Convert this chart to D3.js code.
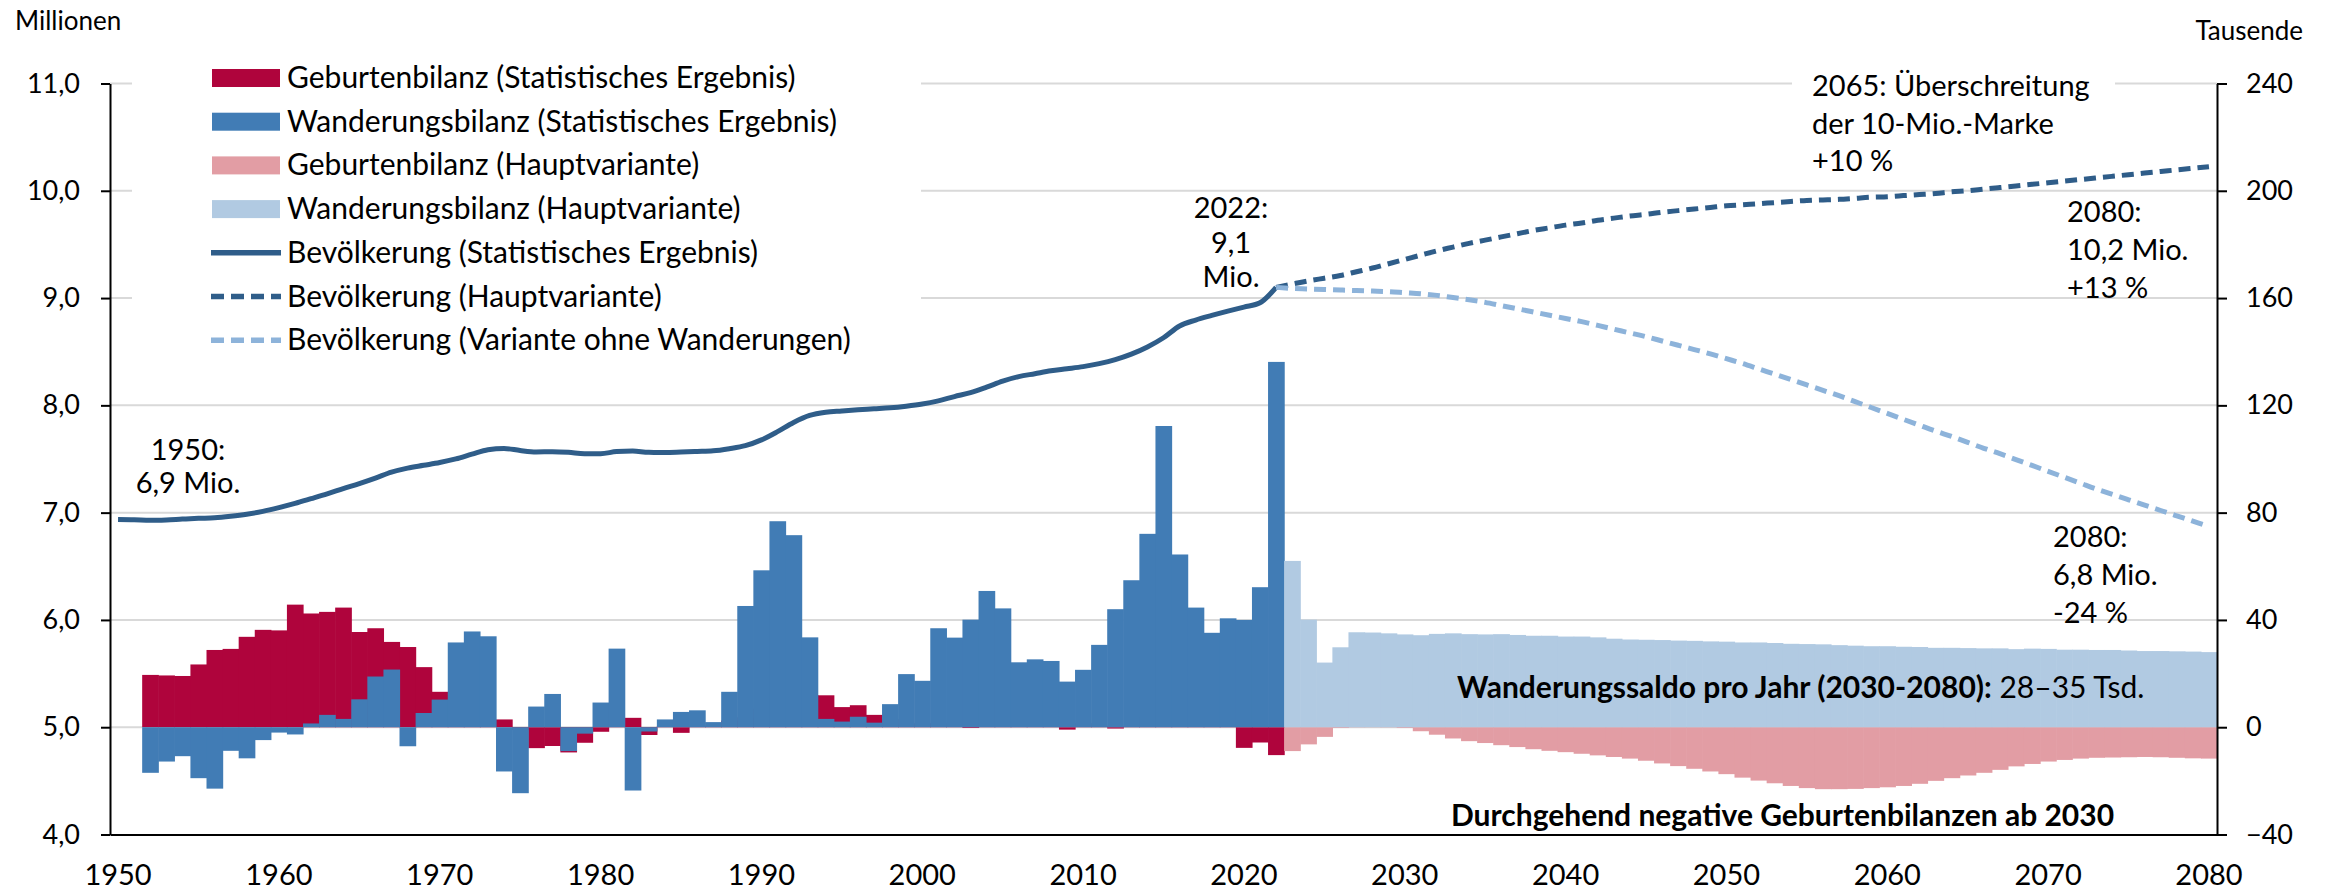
<!DOCTYPE html>
<html>
<head>
<meta charset="utf-8">
<script src="https://cdnjs.cloudflare.com/ajax/libs/d3/7.8.5/d3.min.js"></script>
<style>
  body { margin: 0; background: #fff; }
  svg { display: block; font-family: Lato, 'Open Sans', sans-serif; }
</style>
</head>
<body>
<div id="viz"></div>
<script>
// categories
const firstYear = 1950;
const lastYear = 2080;
const barStartYear = 1952;   // first year with balance bars
const projStartYear = 2023;  // first projected bar
const xTickYears = [1950, 1960, 1970, 1980, 1990, 2000, 2010, 2020, 2030, 2040, 2050, 2060, 2070, 2080];
const leftTicks = [4, 5, 6, 7, 8, 9, 10, 11];
const rightTicks = [-40, 0, 40, 80, 120, 160, 200, 240];

// Geburtenbilanz, statistisches Ergebnis (Tausend), 1952-2022
const geburtenStat = [
  19.5, 19.3, 19.1, 23.4, 28.8, 29.2, 33.7, 36.3, 36.1, 45.7,
  42.4, 43.0, 44.6, 35.5, 36.9, 31.8, 29.9, 22.4, 13.2, 8.0,
  6.0, 1.5, 2.9, -1.0, -7.8, -7.0, -9.4, -5.8, -1.7, 0.8,
  3.5, -2.9, 0.4, -2.1, 0.3, 0.6, 2.5, 3.7, 7.0, 10.0,
  11.5, 12.0, 11.9, 7.5, 8.2, 4.6, 3.0, 1.0, 1.5, 0.5,
  1.6, -0.3, 4.0, 2.5, 3.0, 1.8, 2.0, -0.9, 1.5, 0.5,
  -0.5, 0.5, 3.9, 1.3, 3.8, 4.5, 1.3, 1.6, -7.7, -5.7,
  -10.4
];

// Wanderungsbilanz, statistisches Ergebnis (Tausend), 1952-2022
const wanderungStat = [
  -17.0, -12.8, -10.8, -19.0, -22.9, -8.8, -11.6, -4.8, -2.0, -2.7,
  1.4, 4.6, 3.1, 10.4, 18.9, 21.5, -7.1, 5.3, 10.3, 31.6,
  35.7, 33.9, -16.5, -24.6, 7.7, 12.4, -8.9, -2.4, 9.2, 29.3,
  -23.6, -1.6, 2.9, 5.7, 6.3, 1.9, 13.2, 45.2, 58.5, 76.8,
  71.6, 33.5, 3.1, 2.1, 3.9, 1.7, 8.6, 19.8, 17.3, 36.9,
  33.4, 40.1, 50.8, 44.3, 24.2, 25.3, 24.7, 17.0, 21.4, 30.7,
  44.0, 54.8, 72.1, 112.3, 64.4, 44.6, 35.2, 40.6, 40.0, 52.2,
  136.2
];

// Geburtenbilanz, Hauptvariante (Tausend), 2023-2080
const geburtenHaupt = [
  -8.9, -6.4, -3.6, -0.3, -0.1, 0.1, -0.1, -0.3, -1.5, -2.8,
  -4.2, -5.2, -5.9, -6.7, -7.4, -8.2, -8.8, -9.3, -9.9, -10.5,
  -11.1, -11.7, -12.5, -13.5, -14.5, -15.5, -16.5, -17.5, -18.8, -19.9,
  -20.9, -21.9, -22.7, -23.1, -23.1, -23.0, -22.7, -22.4, -21.9, -21.1,
  -20.0, -19.0, -18.0, -17.0, -15.9, -14.6, -13.7, -12.8, -12.2, -11.7,
  -11.4, -11.3, -11.2, -11.1, -11.2, -11.4, -11.6, -11.7
];

// Wanderungsbilanz, Hauptvariante (Tausend), 2023-2080
const wanderungHaupt = [
  62.0, 40.1, 24.1, 29.8, 35.4, 35.3, 35.0, 34.6, 34.3, 34.8,
  35.0, 34.7, 34.6, 34.7, 34.4, 34.1, 34.1, 33.8, 33.8, 33.5,
  33.0, 32.7, 32.6, 32.5, 32.3, 32.2, 32.0, 31.9, 31.6, 31.6,
  31.4, 31.1, 31.0, 30.9, 30.6, 30.4, 30.2, 30.2, 30.0, 29.9,
  29.6, 29.6, 29.5, 29.4, 29.4, 29.1, 29.3, 29.2, 28.9, 28.9,
  28.8, 28.8, 28.6, 28.4, 28.4, 28.3, 28.2, 28.0
];

// Bevölkerung (Mio.), statistisches Ergebnis, 1950-2022
const popStat = [
  6.935, 6.933, 6.928, 6.932, 6.940, 6.947, 6.952, 6.966, 6.985, 7.012,
  7.047, 7.086, 7.130, 7.175, 7.224, 7.271, 7.322, 7.377, 7.415, 7.441,
  7.467, 7.501, 7.545, 7.587, 7.599, 7.579, 7.566, 7.568, 7.562, 7.549,
  7.549, 7.569, 7.574, 7.562, 7.561, 7.565, 7.570, 7.576, 7.596, 7.624,
  7.678, 7.755, 7.841, 7.906, 7.936, 7.948, 7.959, 7.968, 7.977, 7.992,
  8.012, 8.042, 8.082, 8.118, 8.169, 8.225, 8.268, 8.295, 8.322, 8.341,
  8.361, 8.389, 8.426, 8.477, 8.544, 8.630, 8.740, 8.795, 8.838, 8.878,
  8.916, 8.956, 9.100
];

// Bevölkerung (Mio.), Hauptvariante, 2022-2080
const popHaupt = [
  9.100, 9.130, 9.160, 9.185, 9.210, 9.245, 9.280, 9.320, 9.360,
  9.400, 9.440, 9.475, 9.510, 9.540, 9.570, 9.600, 9.630, 9.655, 9.680,
  9.700, 9.725, 9.745, 9.765, 9.780, 9.800, 9.815, 9.830, 9.845, 9.860,
  9.870, 9.880, 9.890, 9.900, 9.910, 9.915, 9.920, 9.930, 9.940, 9.945,
  9.955, 9.965, 9.975, 9.990, 10.000, 10.015, 10.030, 10.045, 10.060, 10.075,
  10.090, 10.105, 10.120, 10.135, 10.150, 10.165, 10.180, 10.195, 10.210, 10.225
];

// Bevölkerung (Mio.), Variante ohne Wanderungen, 2022-2080
const popOhne = [
  9.100, 9.090, 9.085, 9.080, 9.075, 9.070, 9.065, 9.060, 9.050,
  9.040, 9.025, 9.005, 8.985, 8.960, 8.930, 8.900, 8.870, 8.840, 8.810,
  8.780, 8.745, 8.710, 8.675, 8.640, 8.600, 8.560, 8.520, 8.480, 8.435,
  8.390, 8.340, 8.290, 8.240, 8.190, 8.140, 8.090, 8.035, 7.980, 7.925,
  7.870, 7.815, 7.760, 7.710, 7.655, 7.600, 7.550, 7.495, 7.440, 7.385,
  7.330, 7.275, 7.220, 7.170, 7.120, 7.070, 7.020, 6.970, 6.920, 6.870
];

const legendLabels = [
  'Geburtenbilanz (Statistisches Ergebnis)',
  'Wanderungsbilanz (Statistisches Ergebnis)',
  'Geburtenbilanz (Hauptvariante)',
  'Wanderungsbilanz (Hauptvariante)',
  'Bevölkerung (Statistisches Ergebnis)',
  'Bevölkerung (Hauptvariante)',
  'Bevölkerung (Variante ohne Wanderungen)'
];

const cGebStat = '#af043c';
const cWanStat = '#417cb5';
const cGebHaupt = '#e29da4';
const cWanHaupt = '#b1cae2';
const cPop = '#2f5d89';
const cPopOhne = '#8db3da';

const w = 2331;
const h = 890;
const plotLeft = 110, plotRight = 2217, plotTop = 83.5, plotBottom = 834.5;

const svg = d3.select('#viz').
  append('svg').
  attr('width', w).
  attr('height', h);

const x = d3.scaleBand().
  domain(d3.range(firstYear, lastYear + 1)).
  range([plotLeft, plotRight]).
  padding(0);
const bw = x.bandwidth();
const cx = yr => x(yr) + bw / 2;

const yL = d3.scaleLinear().domain([4, 11]).range([plotBottom, plotTop]);
const yR = d3.scaleLinear().domain([-40, 240]).range([plotBottom, plotTop]);

// gridlines
svg.append('g').
  selectAll('line').
  data(leftTicks.filter(t => t > 4)).
  enter().
  append('line').
  attr('x1', plotLeft).
  attr('x2', plotRight).
  attr('y1', d => yL(d)).
  attr('y2', d => yL(d)).
  attr('stroke', '#d9d9d9').
  attr('stroke-width', 2);

// legend background hides the gridlines behind it
svg.append('rect').
  attr('x', 132).
  attr('y', 55).
  attr('width', 789).
  attr('height', 306).
  attr('fill', '#fff');

// white box behind the 2065 note
svg.append('rect').
  attr('x', 1792).
  attr('y', 66).
  attr('width', 323).
  attr('height', 40).
  attr('fill', '#fff');

// bars
function drawBars(values, startYear, color) {
  svg.append('g').
    selectAll('rect').
    data(values).
    enter().
    append('rect').
    attr('x', (d, i) => x(startYear + i)).
    attr('width', bw + 0.6).
    attr('y', d => yR(Math.max(0, d))).
    attr('height', d => Math.abs(yR(d) - yR(0))).
    attr('fill', color);
}
drawBars(geburtenStat, barStartYear, cGebStat);
drawBars(wanderungStat, barStartYear, cWanStat);
drawBars(geburtenHaupt, projStartYear, cGebHaupt);
drawBars(wanderungHaupt, projStartYear, cWanHaupt);

// axes
const fmt = d => d3.format('.1f')(d).replace('.', ',');

const gLeft = svg.append('g').
  attr('transform', 'translate(' + plotLeft + ',0)').
  call(d3.axisLeft(yL).tickValues(leftTicks).tickFormat(fmt).tickSize(9).tickSizeOuter(0).tickPadding(21));

const gRight = svg.append('g').
  attr('transform', 'translate(' + plotRight + ',0)').
  call(d3.axisRight(yR).tickValues(rightTicks).tickFormat(d3.format('d')).tickSize(10).tickSizeOuter(0).tickPadding(19));

const gBottom = svg.append('g').
  attr('transform', 'translate(0,' + plotBottom + ')').
  call(d3.axisBottom(x).tickValues(xTickYears).tickSize(0).tickSizeOuter(0).tickPadding(30));

[gLeft, gRight, gBottom].forEach(g => {
  g.attr('font-family', null).attr('font-size', null);
  g.selectAll('path.domain').attr('stroke', '#000').attr('stroke-width', 2);
  g.selectAll('.tick line').attr('stroke', '#000').attr('stroke-width', 2);
  g.selectAll('text').attr('fill', '#000').style('font-size', '27px');
});
gBottom.selectAll('text').style('font-size', '29px');

// population lines
const line = d3.line().
  x(d => cx(d[0])).
  y(d => yL(d[1])).
  curve(d3.curveMonotoneX);

svg.append('path').
  datum(popStat.map((v, i) => [firstYear + i, v])).
  attr('d', line).
  attr('fill', 'none').
  attr('stroke', cPop).
  attr('stroke-width', 5);

svg.append('path').
  datum(popHaupt.map((v, i) => [2022 + i, v])).
  attr('d', line).
  attr('fill', 'none').
  attr('stroke', cPop).
  attr('stroke-width', 5).
  attr('stroke-dasharray', '12,7');

svg.append('path').
  datum(popOhne.map((v, i) => [2022 + i, v])).
  attr('d', line).
  attr('fill', 'none').
  attr('stroke', cPopOhne).
  attr('stroke-width', 5).
  attr('stroke-dasharray', '12,7');

// unit labels
svg.append('text').
  text('Millionen').
  attr('x', 15).
  attr('y', 30).
  style('font-size', '26px');

svg.append('text').
  text('Tausende').
  attr('x', 2303).
  attr('y', 40).
  attr('text-anchor', 'end').
  style('font-size', '26px');

// legend
const legend = svg.append('g');
legendLabels.forEach((label, i) => {
  const yy = 78 + i * 43.7;
  if (i < 4) {
    legend.append('rect').
      attr('x', 212).
      attr('y', yy - 9).
      attr('width', 68).
      attr('height', 18).
      attr('fill', [cGebStat, cWanStat, cGebHaupt, cWanHaupt][i]);
  } else {
    legend.append('line').
      attr('x1', 211).
      attr('x2', 281).
      attr('y1', yy).
      attr('y2', yy).
      attr('stroke', i === 6 ? cPopOhne : cPop).
      attr('stroke-width', 5.5).
      attr('stroke-dasharray', i === 4 ? null : '13,7');
  }
  legend.append('text').
    text(label).
    attr('x', 287).
    attr('y', yy + 10).
    style('font-size', '30px');
});

// annotations
const notes = [
  { x: 188, y: 460, anchor: 'middle', gap: 33, lines: ['1950:', '6,9 Mio.'] },
  { x: 1231, y: 218, anchor: 'middle', gap: 34.5, lines: ['2022:', '9,1', 'Mio.'] },
  { x: 1812, y: 96, anchor: 'start', gap: 37.5, lines: ['2065: Überschreitung', 'der 10-Mio.-Marke', '+10 %'] },
  { x: 2067, y: 222, anchor: 'start', gap: 38, lines: ['2080:', '10,2 Mio.', '+13 %'] },
  { x: 2053, y: 547, anchor: 'start', gap: 38, lines: ['2080:', '6,8 Mio.', '-24 %'] }
];
notes.forEach(n => {
  n.lines.forEach((t, i) => {
    svg.append('text').
      text(t).
      attr('x', n.x).
      attr('y', n.y + i * n.gap).
      attr('text-anchor', n.anchor).
      style('font-size', '29px');
  });
});

const wand = svg.append('text').
  attr('x', 1457).
  attr('y', 698).
  style('font-size', '30px');
wand.append('tspan').
  text('Wanderungssaldo pro Jahr (2030-2080):').
  style('font-weight', 'bold');
wand.append('tspan').
  text(' 28–35 Tsd.');

svg.append('text').
  text('Durchgehend negative Geburtenbilanzen ab 2030').
  attr('x', 1451).
  attr('y', 826).
  style('font-size', '30px').
  style('font-weight', 'bold');
</script>
</body>
</html>
